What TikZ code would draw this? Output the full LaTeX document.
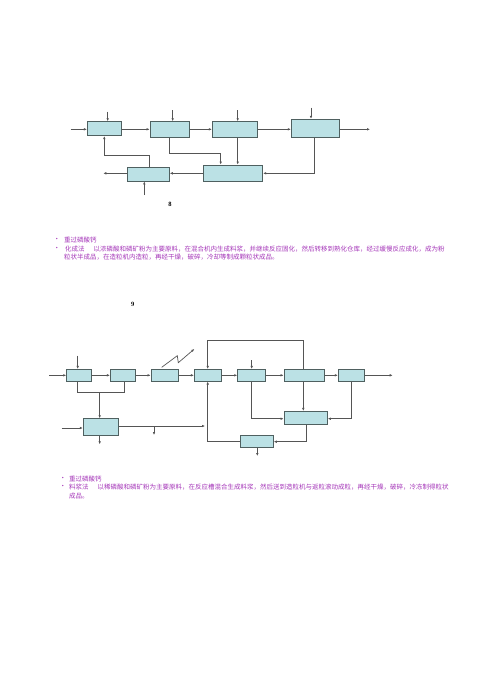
\documentclass[tikz,border=0pt]{standalone}
\usepackage{fontspec}
\setmainfont{Liberation Serif}
\newfontfamily\cjk{Noto Sans CJK SC}
\usetikzlibrary{arrows.meta,calc}
\definecolor{boxfill}{HTML}{BBE1E5}
\definecolor{boxline}{HTML}{4F6060}
\definecolor{wire}{HTML}{555555}
\definecolor{txt}{HTML}{A435B8}
\begin{document}
\begin{tikzpicture}[x=1pt,y=-1pt,
  blk/.style={draw=boxline,fill=boxfill,line width=0.9pt,minimum width=#1,inner sep=0pt,anchor=center},
  blk/.default=30pt,
  wr/.style={draw=wire,line width=0.7pt},
  arr/.style={wr,-{Latex[length=3pt,width=2.6pt]}},
  tx/.style={text=txt,font=\cjk\fontsize{6.5}{7}\selectfont,anchor=west,inner sep=0pt},
  num/.style={font=\bfseries\fontsize{6.5}{7}\selectfont,inner sep=0pt}]
\useasboundingbox (0,0) rectangle (500,691);

% ---------- top diagram ----------
\node[blk=33.7pt,minimum height=14pt] (A) at (104.2,128.7) {};
\node[blk=39.3pt,minimum height=15.6pt] (B) at (169.7,129.5) {};
\node[blk=45pt,minimum height=15.6pt] (C) at (234.8,129.5) {};
\node[blk=48pt,minimum height=18pt] (D) at (315.3,128.3) {};
\node[blk=59pt,minimum height=16pt] (E) at (233.2,173) {};
\node[blk=42pt,minimum height=14pt] (F) at (148.3,174) {};

\coordinate (ain) at (70.7,129.3);
\coordinate (atop) at (107.7,111.7);
\coordinate (btop) at (172.7,110);
\coordinate (ctop) at (237.7,110);
\coordinate (dtop) at (311,107.7);
\coordinate (dout) at (370,129.3);
\coordinate (bk1) at (169.3,153.3);
\coordinate (bk2) at (220.7,153.3);
\coordinate (dk) at (314.3,173.3);
\coordinate (fout) at (103.3,173.3);
\coordinate (fk1) at (149.3,155.7);
\coordinate (fk2) at (104.3,155.7);
\coordinate (fin) at (144.3,195);

\draw[arr] (ain) -- (ain-|A.west);
\draw[arr] (atop) -- (atop|-A.north);
\draw[arr] (btop) -- (btop|-B.north);
\draw[arr] (ctop) -- (ctop|-C.north);
\draw[arr] (dtop) -- (dtop|-D.north);
\draw[arr] (ain-|A.east) -- (ain-|B.west);
\draw[arr] (ain-|B.east) -- (ain-|C.west);
\draw[arr] (ain-|C.east) -- (ain-|D.west);
\draw[arr] (ain-|D.east) -- (dout);
\draw[arr] (bk1|-B.south) -- (bk1) -- (bk2) -- (bk2|-E.north);
\draw[arr] (ctop|-C.south) -- (ctop|-E.north);
\draw[arr] (dk|-D.south) -- (dk) -- (dk-|E.east);
\draw[arr] (dk-|E.west) -- (dk-|F.east);
\draw[arr] (fout-|F.west) -- (fout);
\draw[arr] (fk1|-F.north) -- (fk1) -- (fk2) -- (fk2|-A.south);
\draw[arr] (fin) -- (fin|-F.south);

\node[num] (n8) at (170,204) {8};

% ---------- text 1 ----------
\node[tx] (b1) at (53.5,239.7) {•};
\node[tx] (t1) at (64,239.7) {重过磷酸钙};
\node[tx] (b2) at (53.5,248.7) {•};
\node[tx] (t2) at (65,248.7) {化成法\hspace{9pt}以浓磷酸和磷矿粉为主要原料，在混合机内生成料浆，并继续反应固化，然后转移到熟化仓库，经过缓慢反应成化，成为粉};
\node[tx] (t3) at (64,257) {粒状半成品，在造粒机内造粒，再经干燥，破碎，冷却等制成颗粒状成品。};

\node[num] (n9) at (132.7,304) {9};

% ---------- bottom diagram ----------
\node[blk=24.6pt,minimum height=11.7pt] (P1) at (79,375.2) {};
\node[blk=24.7pt,minimum height=11.7pt] (P2) at (122.7,375.2) {};
\node[blk=27.3pt,minimum height=11.7pt] (P3) at (164.7,375.2) {};
\node[blk=27.3pt,minimum height=11.7pt] (P4) at (208,375.2) {};
\node[blk=27.6pt,minimum height=11.7pt] (P5) at (251.5,375.2) {};
\node[blk=40.3pt,minimum height=11.7pt] (P6) at (304.2,375.2) {};
\node[blk=26pt,minimum height=11.7pt] (P7) at (351.3,375.2) {};
\node[blk=35.4pt,minimum height=17pt] (P8) at (101,427.2) {};
\node[blk=43.3pt,minimum height=12.7pt] (P9) at (305.7,417.7) {};
\node[blk=32.6pt,minimum height=11.6pt] (P10) at (257,441.5) {};

\coordinate (pin) at (49,375.3);
\coordinate (p1top) at (77.7,355.7);
\coordinate (pout) at (392.7,375.3);
\coordinate (z1) at (161.7,367.3);
\coordinate (z2) at (177.3,355.7);
\coordinate (z3) at (178.3,362.7);
\coordinate (z4) at (194.3,349);
\coordinate (p5top) at (251.7,360);
\coordinate (l1) at (303.3,340.7);
\coordinate (l2) at (207.7,340.7);
\coordinate (m1) at (77.7,392.7);
\coordinate (m2) at (124,392.7);
\coordinate (m3) at (99.7,392.7);
\coordinate (p8in) at (61.7,428);
\coordinate (p8out) at (99.7,444.3);
\coordinate (r1) at (205,426);
\coordinate (r2) at (154,426);
\coordinate (r3) at (154,435);
\coordinate (q1) at (207.7,441.7);
\coordinate (s1) at (251.7,418.7);
\coordinate (s2) at (351.7,418.7);
\coordinate (s3) at (306,441.7);
\coordinate (p10out) at (257.3,456);

\draw[arr] (pin) -- (pin-|P1.west);
\draw[arr] (p1top) -- (p1top|-P1.north);
\draw[arr] (pin-|P1.east) -- (pin-|P2.west);
\draw[arr] (pin-|P2.east) -- (pin-|P3.west);
\draw[arr] (pin-|P3.east) -- (pin-|P4.west);
\draw[arr] (pin-|P4.east) -- (pin-|P5.west);
\draw[arr] (pin-|P5.east) -- (pin-|P6.west);
\draw[arr] (pin-|P6.east) -- (pin-|P7.west);
\draw[arr] (pin-|P7.east) -- (pout);
\draw[arr] (z1) -- (z2) -- (z3) -- (z4);
\draw[arr] (p5top) -- (p5top|-P5.north);
\draw[arr] (l1|-P6.north) -- (l1) -- (l2) -- (l2|-P4.north);
\draw[wr] (m1|-P1.south) -- (m1) -- (m2) -- (m2|-P2.south);
\draw[arr] (m3) -- (m3|-P8.north);
\draw[arr] (p8in) -- (p8in-|P8.west);
\draw[arr] (p8out|-P8.south) -- (p8out);
\draw[arr] (r1-|P8.east) -- (r1);
\draw[arr] (r2) -- (r3);
\draw[arr] (q1-|P10.west) -- (q1) -- (q1|-P4.south);
\draw[arr] (p5top|-P5.south) -- (s1) -- (s1-|P9.west);
\draw[arr] (l1|-P6.south) -- (l1|-P9.north);
\draw[arr] (s2|-P7.south) -- (s2) -- (s2-|P9.east);
\draw[arr] (s3|-P9.south) -- (s3) -- (s3-|P10.east);
\draw[arr] (p10out|-P10.south) -- (p10out);

% ---------- text 2 ----------
\node[tx] (b3) at (59.5,478.7) {•};
\node[tx] (t4) at (69,478.7) {重过磷酸钙};
\node[tx] (b4) at (59.5,487) {•};
\node[tx] (t5) at (69,487) {料浆法\hspace{9pt}以稀磷酸和磷矿粉为主要原料，在反应槽混合生成料浆，然后送到造粒机与返粒滚动成粒，再经干燥，破碎，冷冻制得粒状};
\node[tx] (t6) at (69,495.7) {成品。};
\end{tikzpicture}
\end{document}
